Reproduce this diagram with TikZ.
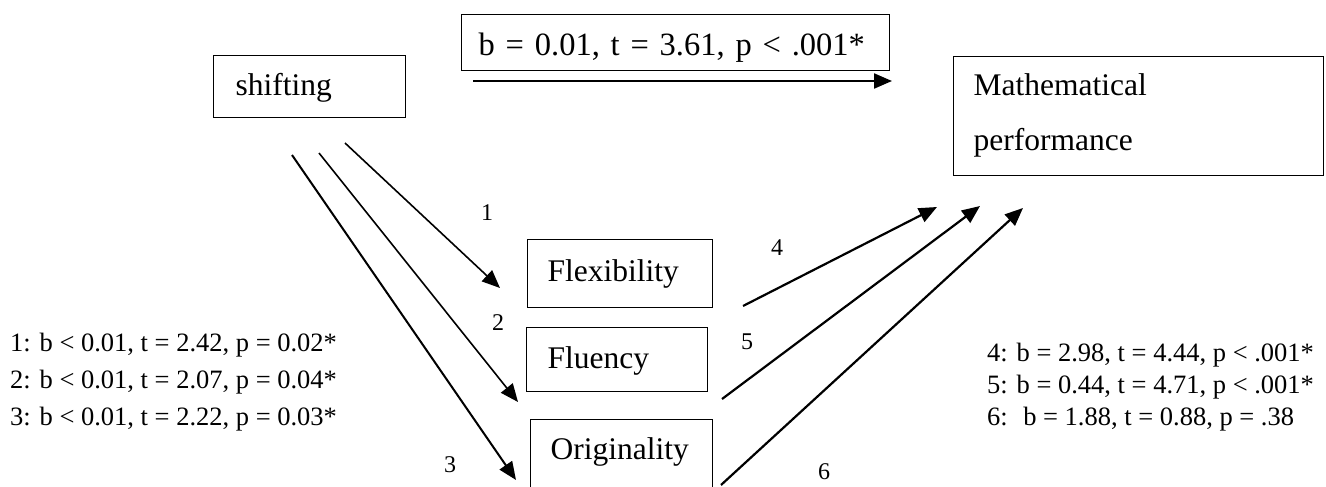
\documentclass[tikz,border=0pt]{standalone}
\usepackage{fontspec}
\setmainfont{Liberation Serif}
\usetikzlibrary{arrows.meta}
\begin{document}
\begin{tikzpicture}[x=1pt,y=-1pt,
  box/.style={draw, line width=1.3pt, inner sep=0pt, align=left, anchor=north west,
    font=\fontsize{31.5}{38}\selectfont},
  arr/.style={line width=2.2pt, -{Triangle[length=18pt,width=15pt]}},
  thinarr/.style={arr, line width=1.6pt},
  num/.style={font=\fontsize{24}{28}\selectfont, inner sep=0pt},
  stat/.style={font=\fontsize{26.5}{29.5}\selectfont, inner sep=0pt, anchor=base west}]
\clip (0,0) rectangle (1326,487);
\useasboundingbox (0,0) rectangle (1326,487);

% boxes
\node[box, text width=192pt, text height=40pt, text depth=22pt] (shift) at (213,55) {\hspace*{22pt}shifting};
\node[box, text width=428pt, text height=41pt, text depth=15pt, font=\fontsize{32.5}{38}\selectfont] (coef) at (461,14) {\hspace*{17pt}b = 0.01, t = 3.61, p < .001*};
\node[box, text width=370pt, text height=39pt, text depth=80pt, font=\fontsize{31.5}{55}\selectfont] (math) at (953,56) {\hspace*{20pt}Mathematical\\\hspace*{20pt}performance};
\node[box, text width=185pt, text height=42pt, text depth=26pt] (flex) at (527,239) {\hspace*{20pt}Flexibility};
\node[box, text width=181pt, text height=41pt, text depth=23pt] (flu) at (526,327) {\hspace*{21pt}Fluency};
\node[box, text width=182pt, text height=40pt, text depth=30pt] (orig) at (530,419) {\hspace*{20pt}Originality};

% statistics
\node[stat] (st1) at (10,351) {1: b < 0.01, t = 2.42, p = 0.02*};
\node[stat] (st2) at (10,388) {2: b < 0.01, t = 2.07, p = 0.04*};
\node[stat] (st3) at (10,425) {3: b < 0.01, t = 2.22, p = 0.03*};
\node[stat] (st4) at (987,361) {4: b = 2.98, t = 4.44, p < .001*};
\node[stat] (st5) at (987,393) {5: b = 0.44, t = 4.71, p < .001*};
\node[stat] (st6) at (987,425) {6:~ b = 1.88, t = 0.88, p = .38};

% path numbers
\node[num] (n1) at (487,213) {1};
\node[num] (n2) at (498,323) {2};
\node[num] (n3) at (450,465) {3};
\node[num] (n4) at (777,248) {4};
\node[num] (n5) at (747,342) {5};
\node[num] (n6) at (824,472) {6};

% arrow end points
\coordinate (ts) at (473,81);  \coordinate (te) at (892,81);
\coordinate (a1s) at (345,143); \coordinate (a1e) at (500,288);
\coordinate (a2s) at (319,153); \coordinate (a2e) at (518,402);
\coordinate (a3s) at (292,155); \coordinate (a3e) at (516,480);
\coordinate (a4s) at (743,306); \coordinate (a4e) at (937,207);
\coordinate (a5s) at (722,399); \coordinate (a5e) at (980,206);
\coordinate (a6s) at (721,485); \coordinate (a6e) at (1023,208);

\draw[arr] (ts) -- (te);
\draw[thinarr] (a1s) -- (a1e);
\draw[thinarr] (a2s) -- (a2e);
\draw[arr, line width=2pt] (a3s) -- (a3e);
\draw[arr] (a4s) -- (a4e);
\draw[arr] (a5s) -- (a5e);
\draw[arr] (a6s) -- (a6e);
\end{tikzpicture}
\end{document}
